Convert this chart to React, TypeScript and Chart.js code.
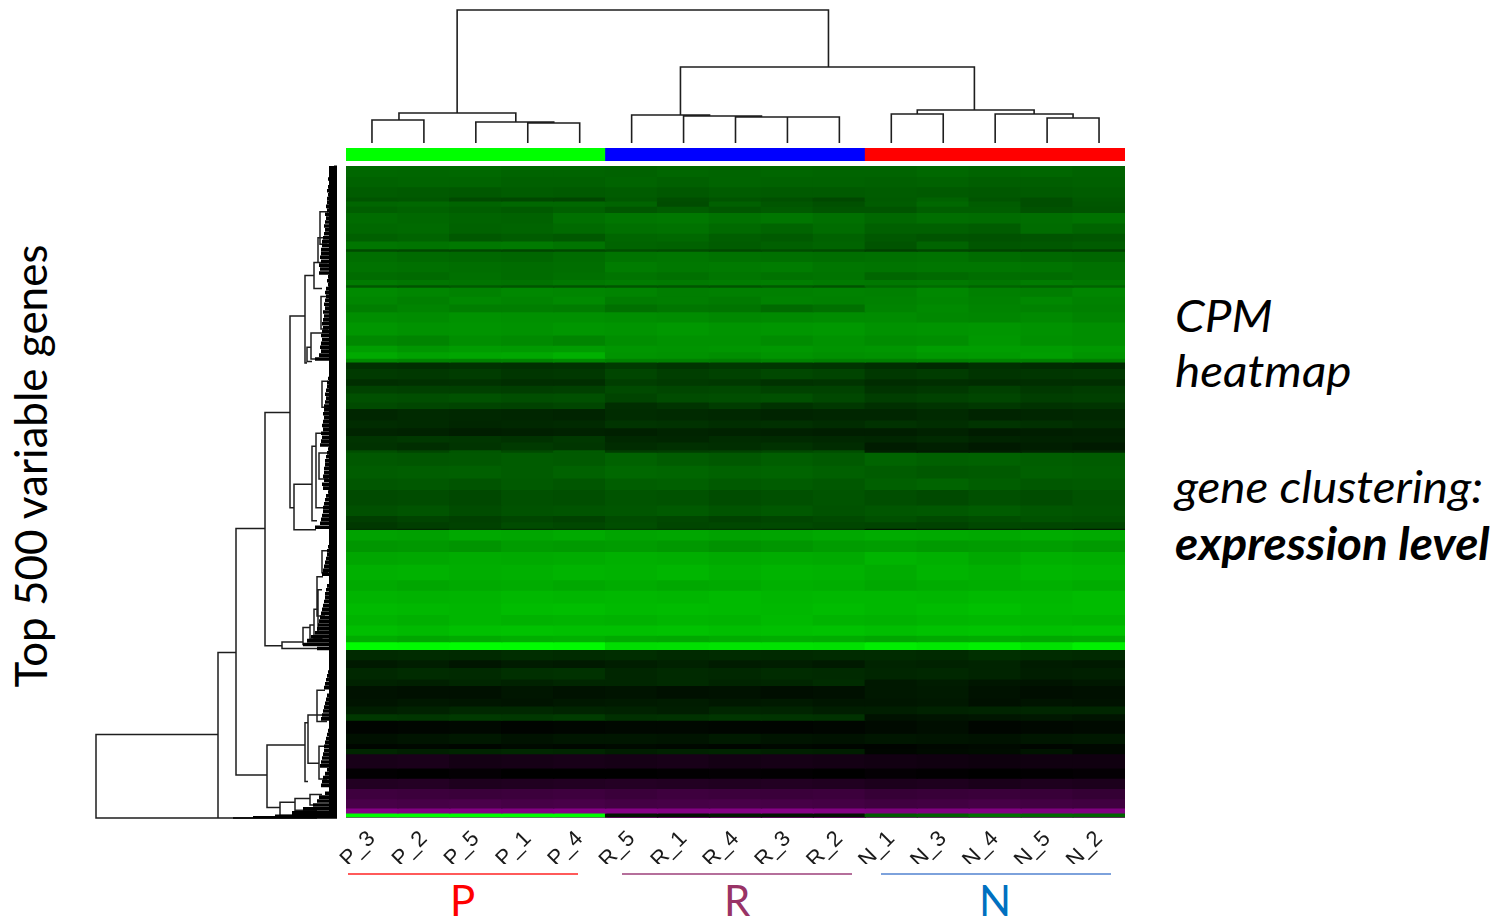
import React, { useEffect, useRef } from "react";
import { Chart, registerables } from "chart.js";

Chart.register(...registerables);

const samples = ["P_3","P_2","P_5","P_1","P_4","R_5","R_1","R_4","R_3","R_2","N_1","N_3","N_4","N_5","N_2"];
const sampleGroupColors = ["#00ff00","#00ff00","#00ff00","#00ff00","#00ff00","#0000ff","#0000ff","#0000ff","#0000ff","#0000ff","#ff0000","#ff0000","#ff0000","#ff0000","#ff0000"];
const geneCount = 500;

// genes covered by each heatmap band, top to bottom
const rowGenes = [8,8,8,3,4,5,8,8,6,6,2,8,8,6,4,2,7,6,6,8,10,8,5,5,3,5,8,5,6,7,5,9,6,6,5,6,2,10,10,9,12,8,5,5,1,8,9,10,12,8,10,9,8,8,5,6,8,6,9,5,10,6,6,5,10,8,4,4,11,8,8,8,7,4,3,1];

// expression per band and sample: positive = green level, negative = magenta level
const rowLevels = [
[103,102,104,100,100,98,102,100,102,100,100,104,100,102,98],
[98,100,100,96,96,100,96,100,98,98,96,98,94,94,96],
[92,90,88,92,90,92,88,92,90,90,92,90,88,90,92],
[84,86,74,72,70,88,78,84,80,72,90,98,84,78,88],
[102,104,100,104,104,100,76,96,86,80,92,104,92,78,86],
[94,98,94,90,96,86,92,86,90,84,84,94,94,82,84],
[108,104,100,98,112,118,120,114,118,112,104,110,108,110,114],
[104,106,98,100,106,112,114,106,100,108,96,96,92,108,100],
[96,100,88,92,88,102,104,94,90,98,88,84,82,84,86],
[118,116,120,122,116,100,98,92,96,100,84,100,86,88,92],
[74,72,72,70,72,78,76,72,76,74,64,70,68,66,66],
[110,106,104,102,108,116,118,114,112,110,112,114,108,104,102],
[114,112,110,108,110,124,120,122,124,118,116,118,118,116,112],
[108,106,112,108,112,116,112,118,114,116,102,106,110,108,112],
[122,118,116,114,120,124,122,124,126,122,120,122,118,124,120],
[88,84,90,86,84,86,86,84,90,84,104,108,100,98,100],
[138,134,130,136,134,132,126,128,128,130,128,136,128,126,134],
[134,128,136,132,138,124,126,122,130,128,130,134,130,136,130],
[126,132,126,126,124,112,118,116,106,112,132,138,132,130,128],
[142,140,146,144,144,142,140,136,138,140,140,136,134,138,132],
[150,146,148,146,150,148,152,148,150,152,146,148,150,146,142],
[136,132,142,138,132,142,146,146,140,146,140,142,152,144,142],
[158,150,156,154,156,150,148,150,152,148,150,158,158,156,152],
[170,162,166,168,176,148,146,142,148,144,146,152,154,158,148],
[138,132,130,132,138,130,130,126,132,128,128,130,132,130,128],
[48,46,50,48,50,58,52,56,54,52,46,42,48,44,42],
[58,56,60,54,56,70,62,66,72,68,56,60,52,54,56],
[46,48,50,46,46,62,58,56,50,52,44,46,44,46,46],
[66,64,64,62,64,74,70,72,66,66,52,56,64,56,60],
[80,78,82,78,80,68,76,78,80,72,62,66,70,62,64],
[74,70,68,66,70,46,52,60,50,56,48,52,56,50,52],
[38,42,40,38,36,44,42,40,36,38,38,42,36,38,40],
[44,42,38,40,42,52,50,46,48,44,50,46,52,48,44],
[36,34,30,32,34,32,36,34,32,30,30,34,28,30,32],
[52,56,54,50,56,40,38,44,42,40,38,42,36,34,34],
[50,46,52,58,54,44,48,46,50,44,28,32,26,30,26],
[78,70,86,74,90,60,62,66,72,78,32,28,30,36,38],
[88,86,88,92,90,98,92,88,94,90,100,96,98,94,92],
[92,94,96,92,98,104,102,98,100,96,92,88,90,96,94],
[86,88,84,90,86,94,96,90,92,88,96,100,94,88,90],
[74,76,72,80,78,84,82,76,80,84,78,74,80,76,82],
[80,84,76,82,84,86,90,84,88,82,86,88,92,86,84],
[62,68,64,70,66,76,72,66,70,74,80,74,78,82,80],
[56,62,66,76,72,78,70,72,74,70,68,66,72,70,70],
[46,40,58,50,54,60,56,54,48,52,24,36,40,42,30],
[162,160,168,166,170,164,166,162,164,168,172,170,168,172,170],
[150,152,148,156,154,156,152,146,150,156,158,154,156,158,154],
[166,168,172,170,172,176,174,170,172,170,180,176,168,176,174],
[176,178,174,176,180,178,182,176,180,178,172,180,176,182,180],
[170,166,170,172,168,172,168,170,176,174,168,172,174,176,172],
[180,178,180,184,182,184,182,186,182,184,184,182,186,184,188],
[186,184,182,188,190,186,188,186,184,188,184,188,192,186,188],
[180,176,182,178,180,178,182,180,186,180,178,182,184,182,180],
[190,186,192,194,192,192,194,190,192,194,190,194,196,192,194],
[172,166,170,174,176,170,168,172,174,172,166,170,172,168,170],
[252,250,254,252,250,222,224,228,226,224,238,232,240,226,240],
[42,44,42,46,44,46,42,44,42,44,44,42,48,44,42],
[26,30,22,28,26,30,34,28,30,26,36,34,36,28,26],
[40,44,42,48,50,38,42,40,44,42,38,40,36,30,32],
[34,32,38,34,38,38,42,36,38,44,24,28,22,20,24],
[18,16,16,22,18,20,16,18,14,16,24,26,18,14,16],
[20,24,22,20,24,26,28,24,26,22,22,24,16,20,18],
[30,34,40,40,36,34,30,38,36,30,30,34,36,38,38],
[56,54,58,56,60,48,50,54,52,50,18,20,22,24,20],
[4,6,8,4,6,8,8,6,4,6,10,14,6,8,10],
[16,20,24,18,22,22,20,26,20,18,22,20,18,22,24],
[6,8,6,10,8,10,8,6,8,6,4,8,10,6,8],
[38,32,36,40,38,30,34,36,32,30,6,10,12,20,8],
[-24,-26,-20,-22,-24,-22,-24,-20,-22,-20,-18,-16,-14,-16,-16],
[-2,0,-4,0,0,0,-2,-4,-2,0,-4,-2,0,-2,-4],
[-34,-36,-30,-32,-34,-36,-34,-32,-34,-32,-28,-30,-26,-30,-28],
[-62,-60,-58,-60,-62,-58,-62,-60,-58,-60,-54,-56,-58,-56,-52],
[-72,-70,-74,-70,-72,-68,-70,-72,-70,-68,-64,-66,-70,-66,-64],
[-134,-130,-132,-130,-134,-134,-130,-132,-134,-130,-126,-128,-130,-126,-128],
[255,255,255,255,255,22,16,26,20,18,90,96,112,104,100],
[-175,-175,-175,-175,-175,-175,-175,-175,-175,-175,-175,-175,-175,-175,-175],
];

// sample dendrogram brackets: [merge height, left position, left height, right position, right height]
const sampleBrackets = [
[133,1.64,30,8.79,76],[30,0.52,23,2.77,21],[23,0,0,1,0],[21,2,0,3.5,20],[20,3,0,4,0],
[76,5.94,28,11.6,33],[28,5,0,6.5,27],[27,6,0,7.5,26],[26,7,0,8.5,26],[26,8,0,9,0],
[33,10.5,29,12.75,29],[29,10,0,11,0],[29,12,0,13.5,25],[25,13,0,14,0],
];

// gene dendrogram brackets: [merge height, top gene, top height, bottom gene, bottom height]
const geneBrackets = [
[241,436,119,500,104],[119,373,101,500,20],[101,278,72,467,70],[72,189,47,368,55],
[47,115,32,262,43],[43,244,25,279,21],[25,215,21,272,20],[21,205,15,262,14],
[32,84,23,151,30],[23,74,18,94,15],[19,55,12,74,10],[30,139,26,150,25],[26,128,15,148,12],
[70,444,32,492,57],[32,427,29,472,29],[29,421,15,458,18],[20,402,12,426,10],[18,445,12,470,10],
[57,488,42,498,30],[42,485,27,494,20],[27,482,15,490,12],
[55,365,34,370,20],[34,354,27,367,15],[27,352,23,363,14],[23,340,19,362,15],[19,325,15,358,12],[20,315,14,345,12],
[17,35,9,60,10],[16,100,10,125,9],[15,165,9,185,8],[18,220,10,240,9],[15,295,8,312,9],
];

// height reached by the densely packed low merges, every third gene
const leafReach = [
3,8,8,9,8,9,10,9,10,
10,11,10,12,11,12,13,12,13,14,15,15,16,
16,17,16,18,17,18,
9,10,9,11,12,11,
12,13,12,14,13,14,15,14,15,16,15,16,17,16,18,22,
4,6,7,8,9,10,10,11,12,11,12,13,
13,14,13,14,15,14,16,15,16,17,
9,10,11,12,12,13,13,14,13,15,14,
9,11,12,13,14,14,15,16,17,22,
5,6,7,8,9,10,10,11,12,13,14,15,
6,8,10,11,12,12,13,14,15,16,17,18,19,20,22,26,
30,34,20,
4,5,6,7,8,9,10,11,12,13,
8,10,11,12,13,14,15,16,
6,8,9,10,11,12,13,13,14,15,16,17,
10,12,14,15,16,
8,12,18,20,24,34,45,
];
const tailGenes = [497,498,499,500];
const tailReach = [45,62,84,104];

const levelColor = (v: number) => (v >= 0 ? `rgb(0,${v},0)` : `rgb(${-v},0,${-v})`);

const bracketPath = (brackets: number[][], horizontal: boolean) => {
  const pts: any[] = [];
  brackets.forEach(([h, a, ha, b, hb]) => {
    const seq = [[ha, a], [h, a], [h, b], [hb, b]];
    seq.forEach(([hh, p]) => pts.push(horizontal ? { x: hh, y: p } : { x: p, y: hh }));
    pts.push({ x: NaN, y: NaN });
  });
  return pts;
};

const line = (data: any[], color: string, width: number) => ({
  type: "line" as const, data, borderColor: color, borderWidth: width, pointRadius: 0,
  showLine: true, spanGaps: false, clip: false as any, tension: 0,
  borderCapStyle: "butt" as const, borderJoinStyle: "miter" as const,
});

const base = { responsive: false, animation: false as const, events: [] as any[],
  plugins: { legend: { display: false }, tooltip: { enabled: false }, title: { display: false } } };

const abs = (left: number, top: number, w: number, h: number): React.CSSProperties =>
  ({ position: "absolute", left, top, width: w, height: h, display: "block" });

const textFont = "Lato, 'Open Sans', sans-serif";
const txt = (left: number, top: number, size: number, extra: React.CSSProperties = {}): React.CSSProperties =>
  ({ position: "absolute", left, top, fontFamily: textFont, fontSize: size, lineHeight: 1, whiteSpace: "nowrap", color: "#000", ...extra });
const wide: React.CSSProperties = { fontStyle: "italic", transform: "scaleX(1.06)", transformOrigin: "left center" };

export default function App() {
  const topRef = useRef<HTMLCanvasElement>(null);
  const barRef = useRef<HTMLCanvasElement>(null);
  const heatRef = useRef<HTMLCanvasElement>(null);
  const leftRef = useRef<HTMLCanvasElement>(null);

  useEffect(() => {
    const totalGenes = rowGenes.reduce((a, b) => a + b, 0);
    const charts: Chart[] = [];

    charts.push(new Chart(topRef.current!, {
      type: "scatter",
      data: { datasets: [line(bracketPath(sampleBrackets, false), "#1e1e1e", 1.6) as any] },
      options: { ...base, layout: { padding: 0 }, scales: {
        x: { type: "linear", min: -0.5, max: 14.5, display: false },
        y: { type: "linear", min: 0, max: 143, display: false },
      } },
    }));

    charts.push(new Chart(barRef.current!, {
      type: "bar",
      data: { labels: samples, datasets: [{ data: samples.map(() => 1), backgroundColor: sampleGroupColors,
        barPercentage: 1, categoryPercentage: 1, inflateAmount: 0.5, borderWidth: 0 } as any] },
      options: { ...base, layout: { padding: 0 }, scales: {
        x: { display: false }, y: { display: false, min: 0, max: 1 },
      } },
    }));

    charts.push(new Chart(heatRef.current!, {
      type: "bar",
      data: { labels: samples, datasets: rowLevels.map((levels, i) => ({
        data: levels.map(() => rowGenes[i]), backgroundColor: levels.map(levelColor),
        stack: "genes", barPercentage: 1, categoryPercentage: 1, inflateAmount: 0.7, borderWidth: 0,
      })) as any },
      options: { ...base, layout: { padding: { left: 20, right: 20, top: 0, bottom: 0 } }, scales: {
        x: { stacked: true, grid: { display: false }, border: { display: false },
          afterFit: (s: any) => { s.height = 46; },
          ticks: { autoSkip: false, minRotation: 45, maxRotation: 45, padding: 0, color: "#1a1a1a",
            font: { family: "'Liberation Sans', sans-serif", size: 22 } } },
        y: { stacked: true, reverse: true, min: 0, max: totalGenes, display: false },
      } },
    }));

    const leaves = leafReach.flatMap((h, i) => [{ x: 0, y: i * 3 + 1 }, { x: h, y: i * 3 + 1 }, { x: NaN, y: NaN }]);
    const tail = tailReach.flatMap((h, i) => [{ x: 0, y: tailGenes[i] }, { x: h, y: tailGenes[i] }, { x: NaN, y: NaN }]);
    charts.push(new Chart(leftRef.current!, {
      type: "scatter",
      data: { datasets: [
        line(leaves, "#000", 3.6) as any,
        line(tail, "#000", 1.6) as any,
        line([{ x: 4, y: 0 }, { x: 4, y: geneCount }], "#000", 8) as any,
        line(bracketPath(geneBrackets, true), "#1e1e1e", 1.5) as any,
      ] },
      options: { ...base, layout: { padding: { left: 6, right: 3, top: 4, bottom: 4 } }, scales: {
        x: { type: "linear", reverse: true, min: 0, max: 241, display: false },
        y: { type: "linear", reverse: true, min: 0, max: geneCount, display: false },
      } },
    }));

    return () => charts.forEach((c) => c.destroy());
  }, []);

  return (
    <div style={{ position: "absolute", left: 0, top: 0, width: 1503, height: 916, overflow: "hidden", background: "#fff" }}>
      <canvas ref={topRef} width={779} height={143} style={abs(346, 0, 779, 143)} />
      <canvas ref={barRef} width={779} height={13} style={abs(346, 148, 779, 13)} />
      <canvas ref={heatRef} width={819} height={698} style={abs(326, 166, 819, 698)} />
      <canvas ref={leftRef} width={250} height={660} style={abs(90, 162, 250, 660)} />

      <div style={{ position: "absolute", left: 348, top: 873, width: 230, height: 1.5, background: "#ff5a5a" }} />
      <div style={{ position: "absolute", left: 622, top: 873, width: 230, height: 1.5, background: "#b56f9b" }} />
      <div style={{ position: "absolute", left: 881, top: 873, width: 230, height: 1.5, background: "#7da2dc" }} />
      <div style={txt(450, 879, 42, { color: "#ff0000" })}>P</div>
      <div style={txt(724, 879, 42, { color: "#993366" })}>R</div>
      <div style={txt(979, 879, 42, { color: "#0070c0" })}>N</div>

      <div style={txt(30, 466, 44, { transform: "translate(-50%,-50%) rotate(-90deg)" })}>Top 500 variable genes</div>

      <div style={txt(1175, 293, 45, wide)}>CPM</div>
      <div style={txt(1175, 348, 45, wide)}>heatmap</div>
      <div style={txt(1175, 464, 45, wide)}>gene clustering:</div>
      <div style={txt(1175, 521, 45, { ...wide, fontWeight: 700 })}>expression level</div>
    </div>
  );
}
